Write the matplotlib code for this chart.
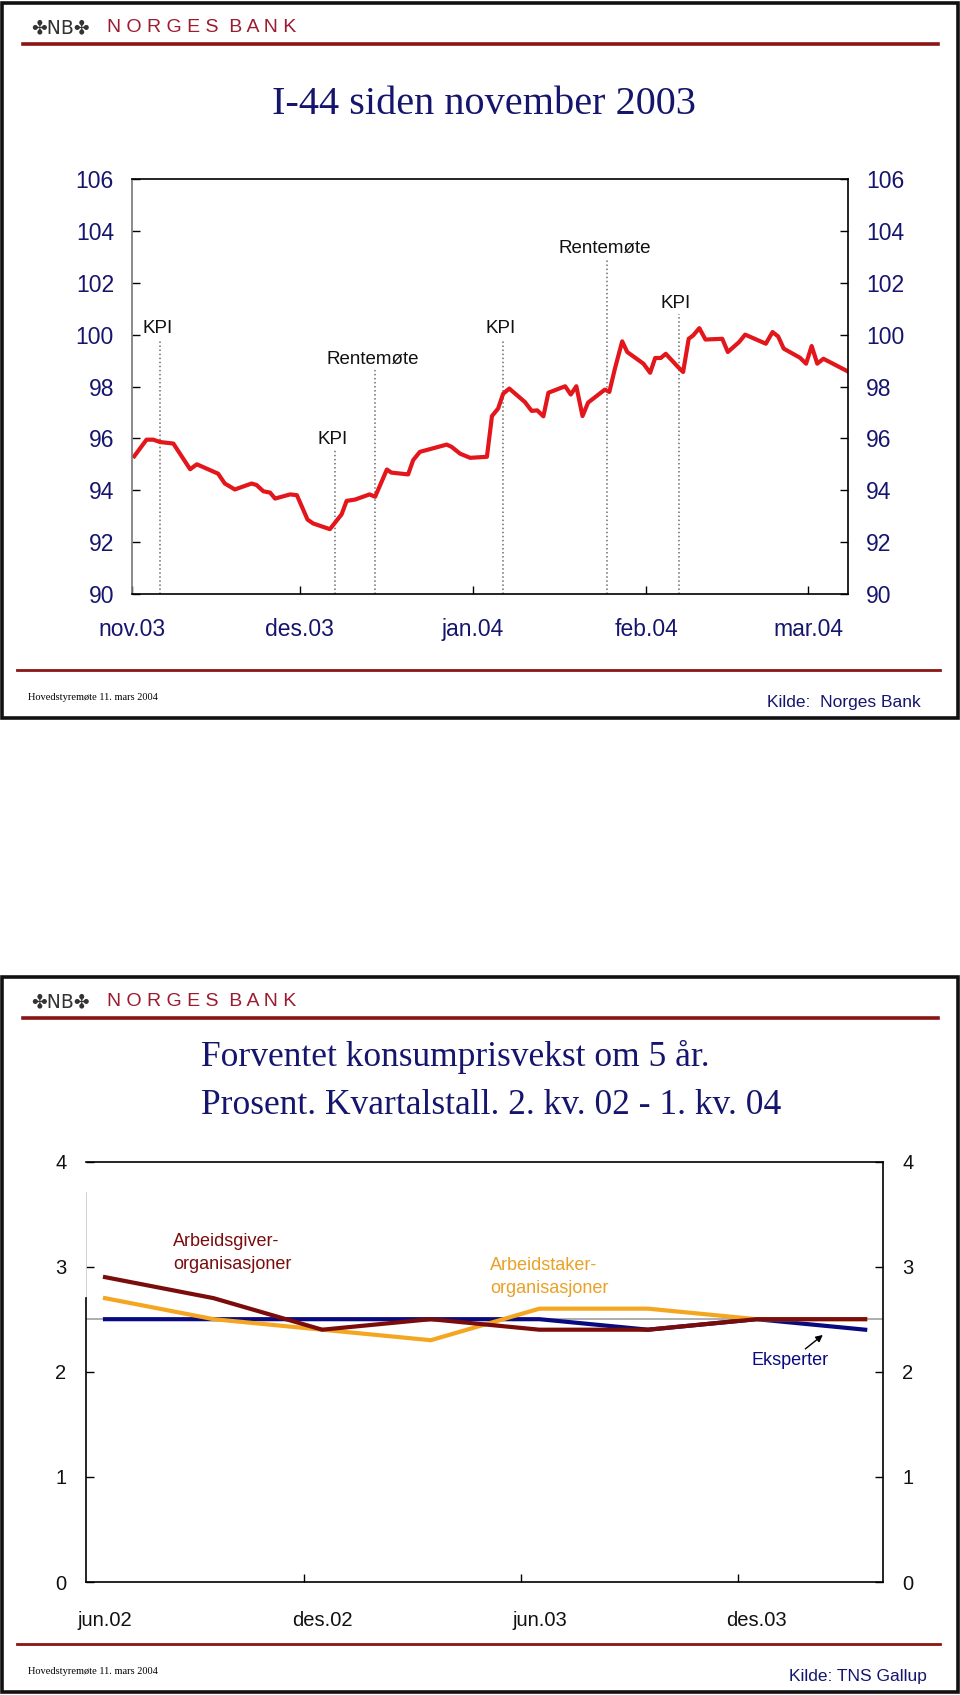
import numpy as np
import pandas as pd
import matplotlib
matplotlib.use('Agg')
import matplotlib.pyplot as plt
import matplotlib.dates as mdates
from matplotlib.lines import Line2D
from matplotlib.patches import Rectangle
from matplotlib.ticker import FuncFormatter

#---------------------- chart 1: I-44 (daily index)
start = pd.Timestamp('2003-11-01')
# days after 1 Nov 2003
i44_days = [0.4, 2.6, 3.8, 5.0, 7.4, 10.4, 11.6, 15.4, 16.6, 18.4, 21.4, 22.3, 23.5, 24.7, 25.6,
            28.3, 29.5, 31.4, 32.4, 35.4, 37.5, 38.4, 39.9, 42.5, 43.5, 45.6, 46.4, 49.4, 50.3, 51.5,
            56.3, 57.2, 58.7, 60.5, 63.5, 64.4, 65.5, 66.4, 67.5, 70.3, 71.5, 72.5, 73.6, 74.5, 77.5,
            78.5, 79.5, 80.6, 81.6, 84.6, 85.4, 86.4, 87.7, 88.6, 91.5, 92.7, 93.6, 94.6, 95.5, 97.7,
            98.6, 99.6, 100.4, 101.5, 102.6, 105.6, 106.6, 108.6, 109.7, 113.4, 114.6, 115.6, 116.6,
            119.5, 120.6, 121.6, 122.6, 123.7, 127.9]
i44_vals = [95.31, 95.95, 95.95, 95.86, 95.80, 94.81, 95.00, 94.64, 94.26, 94.03, 94.26, 94.20, 93.96, 93.91, 93.68,
            93.84, 93.81, 92.87, 92.72, 92.50, 93.07, 93.59, 93.64, 93.84, 93.75, 94.80, 94.68, 94.61, 95.16, 95.48,
            95.76, 95.67, 95.41, 95.25, 95.29, 96.86, 97.15, 97.72, 97.92, 97.40, 97.06, 97.08, 96.85, 97.76, 98.01,
            97.69, 98.01, 96.86, 97.38, 97.88, 97.79, 98.69, 99.74, 99.33, 98.88, 98.53, 99.10, 99.10, 99.26, 98.75,
            98.56, 99.84, 99.97, 100.25, 99.81, 99.84, 99.33, 99.71, 100.00, 99.65, 100.10, 99.93, 99.46,
            99.11, 98.88, 99.56, 98.88, 99.07, 98.60]
event_days = [5.0, 36.4, 43.5, 66.4, 85.0, 97.8]
event_labels = ['KPI', 'KPI', 'Rentemøte', 'KPI', 'Rentemøte', 'KPI']
event_tops = [99.84, 95.54, 98.62, 99.84, 102.92, 100.78]
end_day = 128.1

#---------------------- chart 2: expected inflation in 5 years
quarters = ['2. kv. 02', '3. kv. 02', '4. kv. 02', '1. kv. 03',
            '2. kv. 03', '3. kv. 03', '4. kv. 03', '1. kv. 04']
arbeidsgiver = [2.9, 2.7, 2.4, 2.5, 2.4, 2.4, 2.5, 2.5]
arbeidstaker = [2.7, 2.5, 2.4, 2.3, 2.6, 2.6, 2.5, 2.5]
eksperter = [2.5, 2.5, 2.5, 2.5, 2.5, 2.4, 2.5, 2.4]
inflasjonsmaal = 2.5
q_labels = ['jun.02', 'des.02', 'jun.03', 'des.03']

mnd = ['jan', 'feb', 'mar', 'apr', 'mai', 'jun', 'jul', 'aug', 'sep', 'okt', 'nov', 'des']
NAVY = '#15156e'
RULE = '#8a1515'
SANS = 'Liberation Sans'
SERIF = 'Liberation Serif'

W, H = 960, 1695
def fx(px):
    return px / W
def fy(py):
    return 1 - py / H

fig = plt.figure(figsize=(9.6, 16.95), dpi=100)

# slide frames, headers and footers
for top, bot, kilde, kx in [(3, 718, 'Kilde:  Norges Bank', 921), (977, 1692, 'Kilde: TNS Gallup', 927)]:
    fig.add_artist(Rectangle((fx(2), fy(bot)), (958 - 2) / W, (bot - top) / H, fill=False,
                             lw=2.6, ec='#111111', transform=fig.transFigure))
    fig.add_artist(Line2D([fx(23), fx(938)], [fy(top + 41)] * 2, color=RULE, lw=2.6,
                          transform=fig.transFigure))
    fig.add_artist(Line2D([fx(17), fx(940)], [fy(bot - 48)] * 2, color=RULE, lw=2.0,
                          transform=fig.transFigure))
    fig.text(fx(31), fy(top + 25), '\u2724NB\u2724', family='DejaVu Sans', fontsize=13.5,
             color='#333333', va='center', ha='left')
    fig.text(fx(107), fy(top + 25), 'N O R G E S  B A N K', family=SANS, fontsize=14,
             color='#9b1b30', va='center', ha='left')
    fig.text(fx(28), fy(bot - 21), 'Hovedstyremøte 11. mars 2004', family=SERIF, fontsize=7.5,
             color='black', va='center', ha='left')
    fig.text(fx(kx), fy(bot - 15), kilde, family=SANS, fontsize=12.5, color=NAVY,
             va='center', ha='right')

fig.text(fx(484), fy(105), 'I-44 siden november 2003', family=SERIF, fontsize=29,
         color=NAVY, ha='center', va='center')
fig.text(fx(201), fy(1057), 'Forventet konsumprisvekst om 5 år.', family=SERIF, fontsize=25.5,
         color=NAVY, ha='left', va='center')
fig.text(fx(201), fy(1106), 'Prosent. Kvartalstall. 2. kv. 02 - 1. kv. 04', family=SERIF,
         fontsize=25.5, color=NAVY, ha='left', va='center')

#---------------------- chart 1
ax1 = fig.add_axes([fx(132), fy(594), (848 - 132) / W, (594 - 179) / H])
dates = start + pd.to_timedelta(i44_days, unit='D')
ev_dates = start + pd.to_timedelta(event_days, unit='D')
ax1.vlines(ev_dates, 90, event_tops, colors='#6e6e6e', linestyles=':', lw=1.1)
for d, lab, t in zip(ev_dates, event_labels, event_tops):
    ax1.annotate(lab, xy=(d, t), xytext=(-2, 4.5), textcoords='offset points',
                 ha='center', va='baseline', family=SANS, fontsize=13.5, color='#111111')
ax1.plot(dates, i44_vals, color='#e3161b', lw=3)
ax1.set_ylim(90, 106)
ax1.set_yticks(range(90, 107, 2))
ax1.set_xlim(start, start + pd.Timedelta(days=end_day))
ax1.xaxis.set_major_locator(mdates.MonthLocator())
ax1.xaxis.set_major_formatter(FuncFormatter(
    lambda v, pos: '%s.%s' % (mnd[mdates.num2date(v).month - 1], mdates.num2date(v).strftime('%y'))))
ax1.tick_params(direction='in', length=6, width=1, right=True, labelright=True,
                labelsize=16.5, labelcolor=NAVY)
ax1.tick_params(axis='y', pad=13)
ax1.tick_params(axis='x', pad=17)
for lab in ax1.get_xticklabels() + ax1.get_yticklabels():
    lab.set_family(SANS)
for s in ax1.spines.values():
    s.set_linewidth(1.2)
ax1.spines['left'].set_color('#777777')

#---------------------- chart 2
ax2 = fig.add_axes([fx(86), fy(1582), (883 - 86) / W, (1582 - 1161.5) / H])
x = np.arange(len(quarters))
ax2.axhline(inflasjonsmaal, color='#a0a0a0', lw=1.2)
ax2.plot(x, eksperter, color='#0a0a80', lw=3)
ax2.plot(x, arbeidstaker, color='#f4a620', lw=3)
ax2.plot(x, arbeidsgiver, color='#7a0c0c', lw=3)
ax2.set_xlim(-0.175, 7.164)
ax2.set_ylim(0, 4)
ax2.set_yticks(range(0, 5))
ax2.set_xticks(x[::2])
ax2.set_xticklabels(q_labels)
ax2.set_xticks(x[2::2] - 0.17, minor=True)
ax2.tick_params(axis='x', which='major', length=0, pad=21)
ax2.tick_params(axis='x', which='minor', direction='in', length=6, width=1)
ax2.tick_params(axis='y', direction='in', length=6, width=1, right=True, labelright=True)
ax2.tick_params(axis='y', which='major', pad=14)
ax2.tick_params(labelsize=14.5, labelcolor='#111111')
for lab in ax2.get_xticklabels() + ax2.get_yticklabels():
    lab.set_family(SANS)
for s in ax2.spines.values():
    s.set_linewidth(1.2)
ax2.spines['left'].set_bounds(0, 2.7)
ax2.axvline(-0.175, ymin=2.7 / 4, ymax=3.7 / 4, color='#c8c8c8', lw=1.2)

ax2.text(0.626, 3.13, 'Arbeidsgiver-\norganisasjoner', color='#7a0c0c', family=SANS,
         fontsize=13, ha='left', va='center', linespacing=1.45)
ax2.text(3.546, 2.90, 'Arbeidstaker-\norganisasjoner', color='#e9a126', family=SANS,
         fontsize=13, ha='left', va='center', linespacing=1.45)
ax2.annotate('Eksperter', xy=(6.61, 2.35), xytext=(6.31, 2.11), color='#0a0a80', family=SANS,
             fontsize=13, ha='center', va='center',
             arrowprops=dict(arrowstyle='-|>', color='black', lw=1, mutation_scale=10,
                             shrinkA=0, shrinkB=0, relpos=(0.65, 1.0)))

fig.savefig('out.png', dpi=100)
